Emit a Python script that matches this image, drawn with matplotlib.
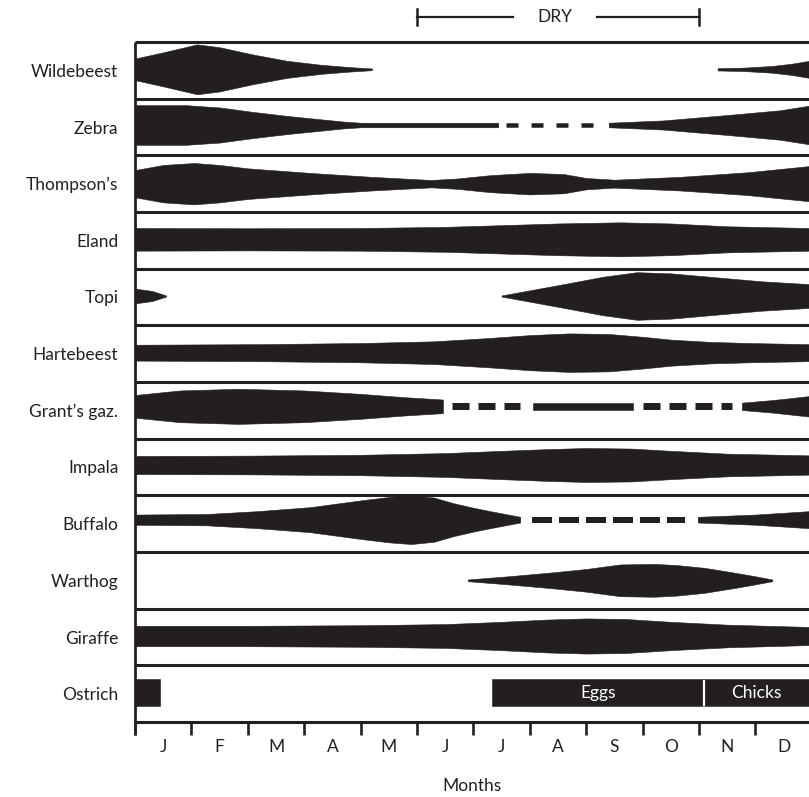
import matplotlib
matplotlib.use("Agg")
import matplotlib.pyplot as plt

plt.rcParams['font.family'] = ['Lato', 'DejaVu Sans']
plt.rcParams['lines.scale_dashes'] = False

INK = '#231f20'

# ---------------- data ----------------
species = ["Wildebeest", "Zebra", "Thompson\u2019s", "Eland", "Topi", "Hartebeest",
           "Grant\u2019s gaz.", "Impala", "Buffalo", "Warthog", "Giraffe", "Ostrich"]
month_labels = ["J", "F", "M", "A", "M", "J", "J", "A", "S", "O", "N", "D"]

# x = month position (0 = start of January), h = half-thickness (fraction of a row)
wildebeest_a_x = [0, 0.5, 1.1, 1.5, 2.1, 2.7, 3.3, 3.8, 4.2]
wildebeest_a_h = [0.19, 0.30, 0.44, 0.39, 0.26, 0.15, 0.08, 0.04, 0.015]
wildebeest_b_x = [10.33, 10.8, 11.3, 11.65, 11.95]
wildebeest_b_h = [0.02, 0.03, 0.06, 0.10, 0.15]

zebra_a_x = [0, 0.9, 1.5, 2.1, 2.7, 3.3, 3.7, 4.0, 6.44]
zebra_a_h = [0.35, 0.35, 0.31, 0.23, 0.16, 0.10, 0.06, 0.04, 0.04]
zebra_b_x = [8.4, 9.36, 10.55, 11.44, 11.95]
zebra_b_h = [0.04, 0.08, 0.18, 0.26, 0.34]

thompson_x = [0, 0.5, 1.05, 1.5, 2.0, 3.1, 4.2, 5.25, 5.7, 6.3, 7.0, 7.6, 8.0, 8.5,
              9.66, 10.85, 11.95]
thompson_h = [0.24, 0.33, 0.365, 0.33, 0.27, 0.19, 0.12, 0.065, 0.09, 0.15, 0.19,
              0.17, 0.10, 0.07, 0.12, 0.20, 0.31]

eland_x = [0, 2, 4, 5.5, 6.5, 7.5, 8.6, 9.5, 10.5, 11.95]
eland_h = [0.20, 0.195, 0.20, 0.22, 0.25, 0.28, 0.30, 0.28, 0.23, 0.20]

topi_a_x = [0, 0.3, 0.55]
topi_a_h = [0.13, 0.09, 0.01]
topi_b_x = [6.5, 7.0, 7.66, 8.3, 8.9, 9.5, 10.3, 11.1, 11.95]
topi_b_h = [0.01, 0.10, 0.22, 0.34, 0.42, 0.40, 0.33, 0.26, 0.21]

hartebeest_x = [0, 2.2, 4.0, 5.3, 6.3, 7.0, 7.7, 8.4, 9.0, 9.5, 10.2, 10.9, 11.95]
hartebeest_h = [0.14, 0.15, 0.17, 0.20, 0.26, 0.31, 0.34, 0.33, 0.28, 0.23, 0.19, 0.17, 0.15]

grants_a_x = [0, 0.8, 1.83, 3.0, 4.0, 4.8, 5.46]
grants_a_h = [0.20, 0.28, 0.31, 0.28, 0.22, 0.16, 0.12]
grants_b_x = [7.06, 8.83]
grants_b_h = [0.06, 0.06]
grants_c_x = [10.76, 11.3, 11.95]
grants_c_h = [0.065, 0.11, 0.18]

impala_x = [0, 2, 4, 5.5, 6.5, 7.3, 8.0, 8.8, 9.5, 10.5, 11.95]
impala_h = [0.16, 0.165, 0.18, 0.21, 0.25, 0.28, 0.30, 0.29, 0.25, 0.20, 0.17]

buffalo_a_x = [0, 1.27, 2.17, 3.1, 4.0, 4.5, 4.9, 5.3, 5.65, 6.0, 6.3, 6.83]
buffalo_a_h = [0.09, 0.10, 0.15, 0.22, 0.34, 0.40, 0.43, 0.39, 0.29, 0.21, 0.15, 0.05]
buffalo_b_x = [9.98, 11.0, 11.95]
buffalo_b_h = [0.05, 0.09, 0.15]

warthog_x = [5.9, 6.6, 7.4, 8.0, 8.6, 9.2, 9.6, 10.1, 10.6, 10.95, 11.3]
warthog_h = [0.015, 0.07, 0.14, 0.20, 0.28, 0.29, 0.27, 0.22, 0.14, 0.08, 0.015]

giraffe_x = [0, 2, 4, 5.5, 6.5, 7.3, 8.0, 8.7, 9.5, 10.5, 11.95]
giraffe_h = [0.18, 0.18, 0.19, 0.21, 0.25, 0.29, 0.31, 0.30, 0.25, 0.20, 0.16]

ostrich_a_x = [0, 0.45]
ostrich_a_h = [0.235, 0.235]
ostrich_b_x = [6.33, 11.95]
ostrich_b_h = [0.24, 0.24]
ostrich_stage_split = 10.09
ostrich_stages = ["Eggs", "Chicks"]

# dashed (uncertain) spans: (start month, end month)
zebra_dashed = [(6.58, 8.21)]
grants_dashed = [(5.62, 6.83), (9.0, 10.58)]
buffalo_dashed = [(7.04, 9.75)]

dry_label = "DRY"
dry_start, dry_end = 5.0, 10.0

shapes = {
    "Wildebeest": [(wildebeest_a_x, wildebeest_a_h), (wildebeest_b_x, wildebeest_b_h)],
    "Zebra": [(zebra_a_x, zebra_a_h), (zebra_b_x, zebra_b_h)],
    "Thompson\u2019s": [(thompson_x, thompson_h)],
    "Eland": [(eland_x, eland_h)],
    "Topi": [(topi_a_x, topi_a_h), (topi_b_x, topi_b_h)],
    "Hartebeest": [(hartebeest_x, hartebeest_h)],
    "Grant\u2019s gaz.": [(grants_a_x, grants_a_h), (grants_b_x, grants_b_h),
                          (grants_c_x, grants_c_h)],
    "Impala": [(impala_x, impala_h)],
    "Buffalo": [(buffalo_a_x, buffalo_a_h), (buffalo_b_x, buffalo_b_h)],
    "Warthog": [(warthog_x, warthog_h)],
    "Giraffe": [(giraffe_x, giraffe_h)],
    "Ostrich": [(ostrich_a_x, ostrich_a_h), (ostrich_b_x, ostrich_b_h)],
}
dashed = {"Zebra": zebra_dashed, "Grant\u2019s gaz.": grants_dashed, "Buffalo": buffalo_dashed}

# ---------------- style ----------------
# dash style in pixels: (on, off, thickness)
dash_style = {"Zebra": (12, 13, 4.5), "Grant\u2019s gaz.": (17, 9, 7), "Buffalo": (20, 7, 6)}
# vertical nudge of each band's centre, in pixels (negative = up)
row_shift = [-1, -2, 0, -1, -1, -1, -4, -2, -4, 0, -1, -1]

W, H = 809, 797
AX_L, AX_R, AX_T, AX_B = 135, 809, 42, 722
PX_MONTH = 56.4
FS = 12.5
PT = 0.72  # points per pixel at dpi 100

fig = plt.figure(figsize=(W / 100, H / 100), dpi=100)
ax = fig.add_axes([AX_L / W, 1 - AX_B / H, (AX_R - AX_L) / W, (AX_B - AX_T) / H])
XMAX = (AX_R - AX_L) / PX_MONTH
row_px = (AX_B - AX_T) / 12
ax.set_xlim(0, XMAX)
ax.set_ylim(12, 0)
for s in ax.spines.values():
    s.set_visible(False)

centers = []
for i, name in enumerate(species):
    c = i + 0.5 + row_shift[i] / row_px
    centers.append(c)
    for xs, hs in shapes.get(name, []):
        ax.fill_between(xs, [c - h for h in hs], [c + h for h in hs],
                        color=INK, lw=0.4, edgecolor=INK, zorder=2)
    for (x0, x1) in dashed.get(name, []):
        on, off, th = dash_style[name]
        ax.plot([x0, x1], [c, c], color=INK, lw=th * PT, dashes=(on * PT, off * PT),
                dash_capstyle='butt', zorder=2)

# Ostrich stages
oc = centers[species.index("Ostrich")]
ax.plot([ostrich_stage_split] * 2, [oc - 0.2, oc + 0.21], color='white', lw=1.6, zorder=3)
ax.text((ostrich_b_x[0] + ostrich_stage_split) / 2, oc, ostrich_stages[0], color='white',
        ha='center', va='center', fontsize=FS, zorder=4)
ax.text((ostrich_stage_split + ostrich_b_x[1]) / 2, oc, ostrich_stages[1], color='white',
        ha='center', va='center', fontsize=FS, zorder=4)

# row separators and left axis line
ax.hlines(range(13), 0, XMAX, colors=INK, lw=2.2, clip_on=False, zorder=3)
ax.plot([0, 0], [0, 12 + 13 / row_px], color=INK, lw=2.0, clip_on=False,
        solid_capstyle='butt', zorder=3)

# month ticks
ax.set_xticks(range(12))
ax.tick_params(axis='x', which='major', length=9, width=1.9, color=INK,
               direction='out', labelbottom=False)
ax.set_xticks([m + 0.5 for m in range(12)], minor=True)
ax.set_xticklabels(month_labels, minor=True)
ax.tick_params(axis='x', which='minor', length=0, pad=12, labelsize=FS, labelcolor=INK)
ax.set_xlabel("Months", fontsize=FS, color=INK, labelpad=17)

ax.set_yticks([i + 0.5 for i in range(12)])
ax.set_yticklabels(species)
ax.tick_params(axis='y', length=0, pad=12, labelsize=FS, labelcolor=INK)

# DRY season bracket
y_dry = (17 - AX_T) / row_px
tick_h = 8 / row_px
gap_l, gap_r = 6.70, 8.19
ax.plot([dry_start, gap_l], [y_dry, y_dry], color=INK, lw=1.6, clip_on=False)
ax.plot([gap_r, dry_end], [y_dry, y_dry], color=INK, lw=1.6, clip_on=False)
for xe in (dry_start, dry_end):
    ax.plot([xe, xe], [y_dry - tick_h, y_dry + tick_h], color=INK, lw=1.8, clip_on=False)
ax.text((gap_l + gap_r) / 2, y_dry, dry_label, ha='center', va='center', fontsize=FS,
        color=INK, clip_on=False)

fig.savefig("out.png", dpi=100, facecolor='white')
